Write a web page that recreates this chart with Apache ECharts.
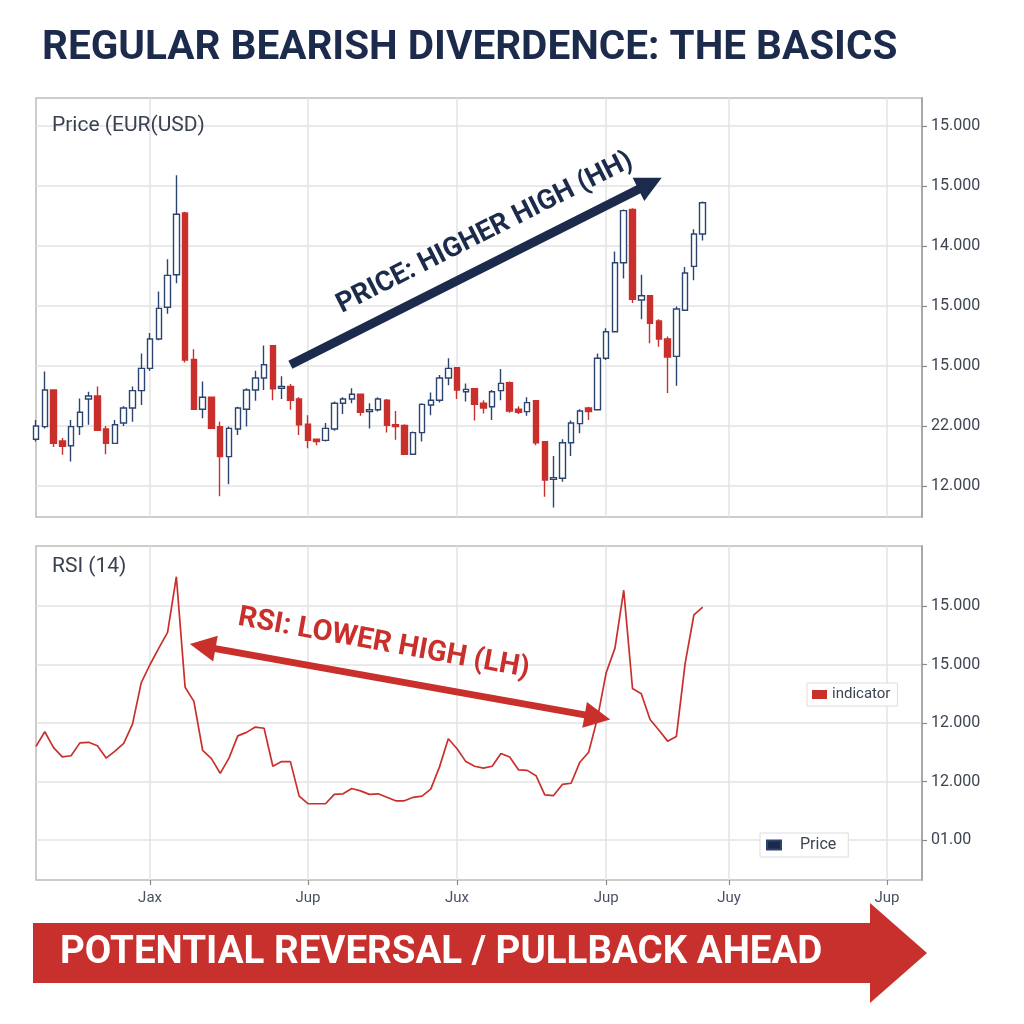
<!DOCTYPE html>
<html>
<head>
<meta charset="utf-8">
<script src="https://cdn.jsdelivr.net/npm/echarts@6/dist/echarts.min.js"></script>
<style>
  html, body { margin: 0; padding: 0; background: #ffffff; }
  #chart { width: 1024px; height: 1024px; }
</style>
</head>
<body>
<div id="chart"></div>
<script>
// ---------- data ----------
const categories = Array.from({ length: 102 }, (_, i) => 'D' + (i + 1));
const monthTickIndex = [13, 31, 48, 65, 79, 97];
const monthLabels = ['Jax', 'Jup', 'Jux', 'Jup', 'Juy', 'Jup'];
const priceAxisLabels = ['12.000', '22.000', '15.000', '15.000', '14.000', '15.000', '15.000'];
const rsiAxisLabels = ['01.00', '12.000', '12.000', '15.000', '15.000'];

const open = [0.78,0.99,1.60,0.75,0.67,0.99,1.45,1.50,0.95,0.71,1.05,1.30,1.59,1.96,2.45,2.98,3.52,4.55,2.11,1.28,1.48,0.99,0.49,0.95,1.28,1.60,1.80,2.34,1.63,1.66,1.45,1.03,0.78,0.76,0.95,1.38,1.45,1.53,1.24,1.27,1.43,1.02,1.01,0.53,0.89,1.35,1.43,1.80,1.97,1.57,1.62,1.38,1.32,1.59,1.72,1.28,1.24,1.42,0.74,0.11,0.13,0.72,1.04,1.30,1.27,2.13,2.57,3.72,4.61,3.10,3.17,2.75,2.45,2.16,2.93,3.66,4.20];
const close = [1.00,1.60,0.71,0.66,0.99,1.23,1.50,0.93,0.71,1.02,1.30,1.59,1.96,2.45,2.96,3.51,4.53,2.10,1.28,1.48,0.96,0.49,0.96,1.30,1.60,1.80,2.02,1.62,1.66,1.43,1.02,0.76,0.74,0.96,1.38,1.45,1.53,1.23,1.27,1.45,1.01,0.99,0.53,0.89,1.36,1.43,1.80,1.96,1.60,1.61,1.36,1.30,1.57,1.71,1.25,1.23,1.39,0.72,0.10,0.14,0.72,1.05,1.25,1.24,2.13,2.57,3.72,4.59,3.11,3.17,2.71,2.45,2.15,2.95,3.55,4.20,4.72];
const low = [0.74,0.96,0.65,0.52,0.41,0.85,1.02,0.92,0.53,0.70,1.00,1.07,1.35,1.92,2.43,2.87,3.38,2.06,1.27,1.13,0.95,-0.17,0.03,0.85,0.99,1.42,1.60,1.43,1.45,1.27,0.85,0.63,0.68,0.74,0.92,1.20,1.38,1.17,0.96,1.24,0.89,0.77,0.52,0.52,0.74,1.18,1.39,1.68,1.45,1.41,1.09,1.21,1.10,1.43,1.22,1.20,1.17,0.68,-0.18,-0.36,0.07,0.50,0.88,1.10,1.26,2.10,2.56,3.46,3.05,2.78,2.38,2.32,1.55,1.67,2.93,3.43,4.09];
const high = [1.10,1.91,1.61,0.80,1.10,1.46,1.57,1.66,1.00,1.10,1.33,1.66,2.21,2.55,3.24,3.78,5.18,4.57,2.28,1.74,1.49,1.07,0.99,1.32,1.63,1.92,2.34,2.35,1.83,1.70,1.48,1.18,0.78,1.05,1.41,1.48,1.63,1.53,1.38,1.48,1.45,1.25,1.03,0.91,1.38,1.56,1.85,2.13,1.97,1.71,1.62,1.43,1.60,1.95,1.74,1.33,1.48,1.43,0.75,0.50,0.78,1.09,1.28,1.32,2.21,2.63,3.91,4.61,4.63,3.52,3.18,2.78,2.49,2.99,3.65,4.28,4.74];
const rsi = [1.60,1.85,1.58,1.42,1.44,1.66,1.67,1.61,1.40,1.52,1.65,1.98,2.69,3.00,3.28,3.55,4.50,2.61,2.37,1.53,1.39,1.14,1.40,1.78,1.84,1.93,1.91,1.26,1.34,1.34,0.75,0.62,0.62,0.62,0.78,0.79,0.88,0.84,0.78,0.79,0.73,0.67,0.67,0.73,0.75,0.87,1.25,1.73,1.56,1.34,1.26,1.23,1.26,1.48,1.42,1.20,1.19,1.10,0.77,0.76,0.95,0.97,1.33,1.50,2.08,2.86,3.28,4.27,2.59,2.50,2.06,1.88,1.69,1.77,3.02,3.85,3.98];

// ---------- build ----------
const candleData = open.map((o, i) => [o, close[i], low[i], high[i]]);
const isMonthTick = (idx) => monthTickIndex.indexOf(idx) !== -1;
const FONT = 'Roboto';
const NAVY = '#1c2b4b';
const RED = '#c9302c';
const GRID_LINE = { color: '#e3e3e3', width: 1.5 };

const chart = echarts.init(document.getElementById('chart'), null, { renderer: 'canvas' });

const option = {
  animation: false,
  backgroundColor: '#ffffff',
  title: [
    { text: 'REGULAR BEARISH DIVERDENCE: THE BASICS', left: 37, top: 23,
      textStyle: { fontFamily: FONT, fontWeight: 'bold', fontSize: 40.5, color: NAVY } },
    { text: 'Price (EUR(USD)', left: 47, top: 110,
      textStyle: { fontFamily: FONT, fontWeight: 'normal', fontSize: 21, color: '#3a4252' } },
    { text: 'RSI (14)', left: 47, top: 551,
      textStyle: { fontFamily: FONT, fontWeight: 'normal', fontSize: 21, color: '#3a4252' } }
  ],
  legend: [
    { data: ['indicator'], left: 807, top: 683, icon: 'rect', itemWidth: 15, itemHeight: 9,
      padding: [4, 7, 4, 5], borderColor: '#dddddd', borderWidth: 1, backgroundColor: '#ffffff',
      selectedMode: false, textStyle: { fontFamily: FONT, fontSize: 15, color: '#3d4452' } },
    { data: [{ name: 'Price', itemStyle: { color: NAVY } }], left: 760, top: 833, icon: 'rect',
      itemWidth: 14, itemHeight: 9, padding: [4, 12, 4, 6], borderColor: '#dddddd', borderWidth: 1,
      backgroundColor: '#ffffff', selectedMode: false,
      textStyle: { fontFamily: FONT, fontSize: 16, color: '#3d4452', padding: [0, 0, 0, 14] } }
  ],
  grid: [
    { left: 36, right: 102, top: 98, height: 419, show: true, borderColor: '#bcbcbc', borderWidth: 1.5, backgroundColor: 'transparent' },
    { left: 36, right: 102, top: 126, height: 360 },
    { left: 36, right: 102, top: 546, height: 334, show: true, borderColor: '#bcbcbc', borderWidth: 1.5, backgroundColor: 'transparent' },
    { left: 36, right: 102, top: 606, height: 234 }
  ],
  xAxis: [
    { gridIndex: 0, type: 'category', data: categories, boundaryGap: false,
      axisLine: { show: false }, axisTick: { show: false }, axisLabel: { show: false },
      splitLine: { show: true, interval: isMonthTick, lineStyle: GRID_LINE } },
    { gridIndex: 1, type: 'category', data: categories, boundaryGap: false, show: false },
    { gridIndex: 2, type: 'category', data: categories, boundaryGap: false,
      axisLine: { show: false },
      axisTick: { show: true, interval: isMonthTick, length: 5, lineStyle: { color: '#8a8a8a', width: 1.2 } },
      axisLabel: { show: true, interval: isMonthTick, margin: 11, fontFamily: FONT, fontSize: 15, color: '#4a5162',
        formatter: (v, idx) => monthLabels[monthTickIndex.indexOf(idx)] || '' },
      splitLine: { show: true, interval: isMonthTick, lineStyle: GRID_LINE } },
    { gridIndex: 3, type: 'category', data: categories, boundaryGap: false, show: false }
  ],
  yAxis: [
    { gridIndex: 0, type: 'value', position: 'right', min: 0, max: 1,
      axisLine: { show: true, lineStyle: { color: '#9c9c9c', width: 1.5 } },
      axisTick: { show: false }, axisLabel: { show: false }, splitLine: { show: false } },
    { gridIndex: 1, type: 'value', position: 'right', min: 0, max: 6, interval: 1,
      axisLine: { show: false },
      axisTick: { show: true, length: 5, lineStyle: { color: '#8a8a8a', width: 1.2 } },
      axisLabel: { margin: 9, fontFamily: FONT, fontSize: 16, color: '#3d4452',
        formatter: (v) => priceAxisLabels[Math.round(v)] },
      splitLine: { show: true, lineStyle: GRID_LINE } },
    { gridIndex: 2, type: 'value', position: 'right', min: 0, max: 1,
      axisLine: { show: true, lineStyle: { color: '#9c9c9c', width: 1.5 } },
      axisTick: { show: false }, axisLabel: { show: false }, splitLine: { show: false } },
    { gridIndex: 3, type: 'value', position: 'right', min: 0, max: 4, interval: 1,
      axisLine: { show: false },
      axisTick: { show: true, length: 5, lineStyle: { color: '#8a8a8a', width: 1.2 } },
      axisLabel: { margin: 9, fontFamily: FONT, fontSize: 16, color: '#3d4452',
        formatter: (v) => rsiAxisLabels[Math.round(v)] },
      splitLine: { show: true, lineStyle: GRID_LINE } }
  ],
  series: [
    {
      name: 'Price', type: 'candlestick', xAxisIndex: 1, yAxisIndex: 1, data: candleData,
      clip: false, barWidth: 6,
      itemStyle: { color: '#ffffff', color0: RED, borderColor: '#2b4470', borderColor0: RED, borderWidth: 1.4 },
      markLine: {
        silent: true, animation: false,
        symbol: ['none', 'triangle'], symbolSize: 26,
        lineStyle: { color: NAVY, width: 9, type: 'solid' },
        label: { show: true, position: 'insideEndTop', distance: [6, 16], formatter: 'PRICE: HIGHER HIGH (HH)',
          color: NAVY, fontFamily: FONT, fontWeight: 'bold', fontSize: 27.5 },
        data: [[{ coord: [29, 2.02] }, { coord: [70, 5.04] }]]
      }
    },
    {
      name: 'indicator', type: 'line', xAxisIndex: 3, yAxisIndex: 3, data: rsi,
      clip: false, symbol: 'none', color: RED,
      lineStyle: { color: RED, width: 1.7 },
      markLine: {
        silent: true, animation: false,
        symbol: ['triangle', 'triangle'], symbolSize: 26,
        lineStyle: { color: RED, width: 7, type: 'solid' },
        label: { show: true, position: 'insideStartTop', distance: [30, 20], formatter: 'RSI: LOWER HIGH (LH)',
          color: RED, fontFamily: FONT, fontWeight: 'bold', fontSize: 29 },
        data: [[{ coord: [19, 3.31] }, { coord: [64, 2.10] }]]
      }
    }
  ],
  graphic: [
    { type: 'polygon', silent: true,
      shape: { points: [[33, 923], [870, 923], [870, 903], [927, 953], [870, 1003], [870, 983], [33, 983]] },
      style: { fill: '#c7302c' } },
    { type: 'text', silent: true, x: 60, y: 953,
      style: { text: 'POTENTIAL REVERSAL / PULLBACK AHEAD', fill: '#ffffff',
        font: 'bold 38.5px Roboto', textVerticalAlign: 'middle', textAlign: 'left' } }
  ]
};

chart.setOption(option);
</script>
</body>
</html>
